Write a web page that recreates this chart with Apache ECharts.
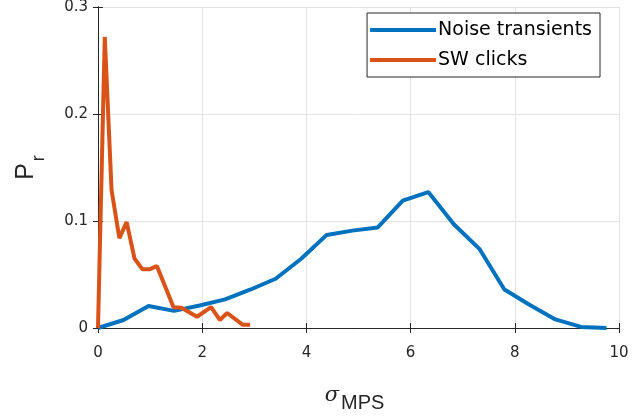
<!DOCTYPE html>
<html><head><meta charset="utf-8">
<script src="https://cdn.jsdelivr.net/npm/echarts@6/dist/echarts.min.js"></script>
<style>html,body{margin:0;padding:0;background:#fff}#c{width:642px;height:417px}</style>
</head><body><div id="c"></div>
<script>
var noiseX = [0, 0.49, 0.97, 1.46, 1.95, 2.44, 2.93, 3.41, 3.90, 4.39, 4.88, 5.37, 5.85, 6.34, 6.83, 7.32, 7.80, 8.29, 8.78, 9.27, 9.76];
var noiseY = [0, 0.0075, 0.0206, 0.0160, 0.0210, 0.0268, 0.0360, 0.0460, 0.0647, 0.0870, 0.0910, 0.0940, 0.1190, 0.1270, 0.0970, 0.0740, 0.0360, 0.0215, 0.0080, 0.0010, 0.0000];
var clickX = [0, 0.13, 0.26, 0.41, 0.55, 0.70, 0.85, 1.00, 1.13, 1.45, 1.60, 1.90, 2.17, 2.34, 2.48, 2.78, 2.92];
var clickY = [0, 0.272, 0.129, 0.084, 0.099, 0.065, 0.055, 0.055, 0.058, 0.0195, 0.019, 0.0105, 0.0195, 0.0075, 0.0140, 0.003, 0.003];
var xTicks = [0, 2, 4, 6, 8, 10];
var yTicks = [0, 0.1, 0.2, 0.3];
var seriesNames = ['Noise transients', 'SW clicks'];
var seriesColors = ['#0072BD', '#D95319'];

function pairs(xs, ys) { return xs.map(function (x, i) { return [x, ys[i]]; }); }

var chart = echarts.init(document.getElementById('c'), null, {renderer: 'canvas'});
var axisTxt = {color: '#262626', fontSize: 15, fontFamily: 'DejaVu Sans'};
var lineCol = '#262626';
chart.setOption({
  animation: false,
  backgroundColor: '#fff',
  grid: {left: 98, right: 23, top: 7, bottom: 89, show: false, containLabel: false, outerBoundsMode: 'none'},
  legend: {
    orient: 'vertical', right: 42, top: 13,
    data: seriesNames.map(function (n) { return {name: n, icon: 'rect'}; }),
    backgroundColor: '#fff', borderColor: '#262626', borderWidth: 1,
    padding: [6, 8, 6, 3], itemGap: 8,
    itemWidth: 66, itemHeight: 4,
    textStyle: {fontSize: 19, lineHeight: 22, color: '#000', fontFamily: 'DejaVu Sans', padding: [0, 0, 0, -3]}
  },
  xAxis: [{
    type: 'value', min: 0, max: 10, interval: 2,
    axisLine: {show: true, onZero: false, lineStyle: {color: lineCol, width: 1}},
    axisTick: {show: true, inside: true, length: 5, lineStyle: {color: lineCol}},
    axisLabel: Object.assign({margin: 18, formatter: function (v) { return xTicks.indexOf(v) >= 0 ? String(v) : ''; }}, axisTxt),
    splitLine: {show: true, lineStyle: {color: '#e3e3e3', width: 1}},
    name: '{s|σ}{sub|MPS}', nameLocation: 'middle', nameGap: 57,
    nameTextStyle: {
      padding: [0, 8, 0, 0],
      rich: {
        s: {fontSize: 21, fontStyle: 'italic', fontFamily: 'DejaVu Serif', color: '#262626', verticalAlign: 'top', lineHeight: 28},
        sub: {fontSize: 20, fontFamily: 'Liberation Sans', color: '#262626', verticalAlign: 'bottom', lineHeight: 28, padding: [12, 0, 0, 2]}
      }
    }
  }, {
    type: 'value', position: 'top', min: 0, max: 10, interval: 2,
    axisLine: {show: true, lineStyle: {color: lineCol, width: 1}},
    axisTick: {show: true, inside: true, length: 5, lineStyle: {color: lineCol}},
    axisLabel: {show: false}, splitLine: {show: false}
  }],
  yAxis: [{
    type: 'value', min: 0, max: 0.3, interval: 0.1,
    axisLine: {show: true, onZero: false, lineStyle: {color: lineCol, width: 1}},
    axisTick: {show: true, inside: true, length: 5, lineStyle: {color: lineCol}},
    axisLabel: Object.assign({margin: 10, formatter: function (v) { var r = Math.round(v * 10) / 10; return yTicks.indexOf(r) >= 0 ? String(r) : ''; }}, axisTxt),
    splitLine: {show: true, lineStyle: {color: '#e3e3e3', width: 1}},
    name: '{p|P}{sub|r}', nameLocation: 'middle', nameGap: 50, nameRotate: 90,
    nameTextStyle: {
      rich: {
        p: {fontSize: 25, fontFamily: 'Liberation Sans', color: '#262626', verticalAlign: 'top', lineHeight: 34},
        sub: {fontSize: 18, fontFamily: 'Liberation Sans', color: '#262626', verticalAlign: 'bottom', lineHeight: 34, padding: [26, 0, 0, 2]}
      }
    }
  }, {
    type: 'value', position: 'right', min: 0, max: 0.3, interval: 0.1,
    axisLine: {show: true, lineStyle: {color: lineCol, width: 1}},
    axisTick: {show: true, inside: true, length: 5, lineStyle: {color: lineCol}},
    axisLabel: {show: false}, splitLine: {show: false}
  }],
  series: [{
    name: seriesNames[0], type: 'line', data: pairs(noiseX, noiseY),
    symbol: 'none', lineStyle: {color: seriesColors[0], width: 4}, itemStyle: {color: seriesColors[0]}, z: 3
  }, {
    name: seriesNames[1], type: 'line', data: pairs(clickX, clickY),
    symbol: 'none', lineStyle: {color: seriesColors[1], width: 4}, itemStyle: {color: seriesColors[1]}, z: 4
  }]
});
</script></body></html>
